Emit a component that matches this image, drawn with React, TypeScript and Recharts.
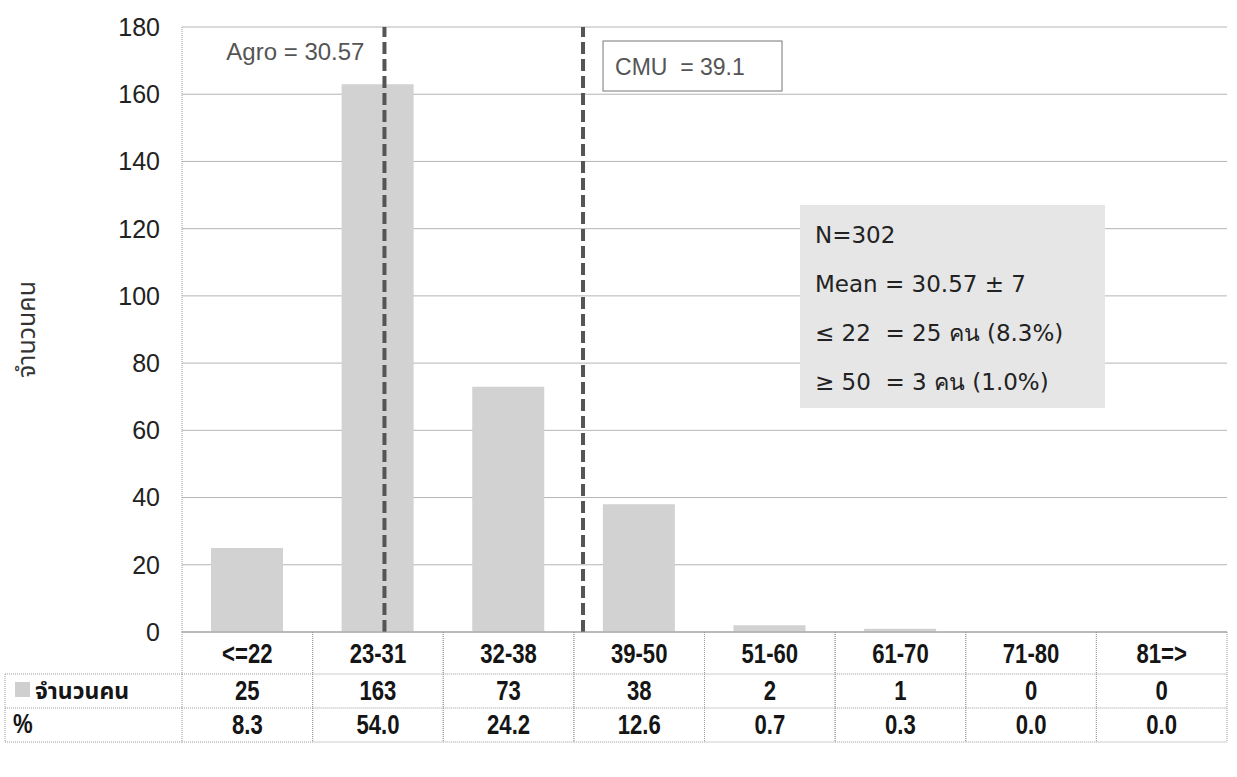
import React from 'react';
import { BarChart, Bar, XAxis, YAxis, CartesianGrid, ReferenceLine } from 'recharts';

const categories = ['<=22', '23-31', '32-38', '39-50', '51-60', '61-70', '71-80', '81=>'];
const counts = [25, 163, 73, 38, 2, 1, 0, 0];
const percents = ['8.3', '54.0', '24.2', '12.6', '0.7', '0.3', '0.0', '0.0'];
const yTicks = [0, 20, 40, 60, 80, 100, 120, 140, 160, 180];
const refLines = [
  { label: 'Agro = 30.57', pos: 1.55, side: 'left' },
  { label: 'CMU  = 39.1', pos: 3.07, side: 'right' },
];
const statsLines = ['N=302', 'Mean = 30.57 ± 7', '≤ 22  = 25 คน (8.3%)', '≥ 50  = 3 คน (1.0%)'];
const seriesName = 'จำนวนคน';
const pctName = '%';

const data = categories.map((c, i) => ({ cat: c, slot: i + 0.5, count: counts[i], pct: percents[i] }));

const W = 1237;
const H = 777;
const Y_W = 182;
const M_RIGHT = 10;
const X_H = 145;
const PLOT_W = W - Y_W - M_RIGHT;
const COL_W = PLOT_W / categories.length;
const ROW1 = 42;
const ROW2 = 34;
const ROW3 = 34;
const HEADER_LEFT = 5;

const sans = '"Liberation Sans", Arial, sans-serif';
const thai = '"Noto Sans Thai", Tahoma, "DejaVu Sans", sans-serif';
const gridStroke = '#9a9a9a';

const NarrowText = ({ x, y, children, anchor = 'middle', size = 27 }: any) => (
  <text
    transform={`translate(${x},${y}) scale(0.82,1)`}
    textAnchor={anchor}
    fontFamily={sans}
    fontWeight={700}
    fontSize={size}
    fill="#151515"
  >
    {children}
  </text>
);

const TableTick = (props: any) => {
  const { x, y, index, payload } = props;
  const left = x - COL_W / 2;
  const d = data[index] || { count: '', pct: '' };
  const cellLine = { stroke: gridStroke, strokeWidth: 1, strokeDasharray: '1 1' };
  const total = ROW1 + ROW2 + ROW3;
  return (
    <g>
      <line x1={left} y1={y} x2={left} y2={y + total} {...cellLine} />
      <line x1={left + COL_W} y1={y} x2={left + COL_W} y2={y + total} {...cellLine} />
      <line x1={left} y1={y + ROW1} x2={left + COL_W} y2={y + ROW1} {...cellLine} />
      <line x1={left} y1={y + ROW1 + ROW2} x2={left + COL_W} y2={y + ROW1 + ROW2} {...cellLine} />
      <line x1={left} y1={y + total} x2={left + COL_W} y2={y + total} {...cellLine} />
      <NarrowText x={x} y={y + 31}>{payload.value}</NarrowText>
      <NarrowText x={x} y={y + ROW1 + 26}>{d.count}</NarrowText>
      <NarrowText x={x} y={y + ROW1 + ROW2 + 26}>{d.pct}</NarrowText>
      {index === 0 && (
        <g>
          <line x1={HEADER_LEFT} y1={y + ROW1} x2={left} y2={y + ROW1} {...cellLine} />
          <line x1={HEADER_LEFT} y1={y + ROW1 + ROW2} x2={left} y2={y + ROW1 + ROW2} {...cellLine} />
          <line x1={HEADER_LEFT} y1={y + total} x2={left} y2={y + total} {...cellLine} />
          <line x1={HEADER_LEFT} y1={y + ROW1} x2={HEADER_LEFT} y2={y + total} {...cellLine} />
          <rect x={HEADER_LEFT + 10} y={y + ROW1 + 8} width={15} height={15} fill="#cfcfcf" />
          <text x={HEADER_LEFT + 30} y={y + ROW1 + 25} fontFamily={thai} fontWeight={700} fontSize={23} fill="#151515">
            {seriesName}
          </text>
          <NarrowText x={HEADER_LEFT + 8} y={y + ROW1 + ROW2 + 25} anchor="start">{pctName}</NarrowText>
        </g>
      )}
    </g>
  );
};

const RefLabel = (label: string, side: string) => (props: any) => {
  const vb = props.viewBox || {};
  const x = vb.x;
  const y = vb.y;
  if (side === 'left') {
    return (
      <text x={x - 20} y={y + 33} textAnchor="end" fontFamily={sans} fontSize={24} fill="#555">
        {label}
      </text>
    );
  }
  return (
    <g>
      <rect x={x + 20} y={y + 14} width={179} height={50} fill="#fff" stroke="#777" strokeWidth={1} />
      <text x={x + 32} y={y + 48} fontFamily={sans} fontSize={23} fill="#555" style={{ whiteSpace: 'pre' }}>
        {label}
      </text>
    </g>
  );
};

export default function App() {
  return (
    <div style={{ position: 'absolute', left: 0, top: 0, width: W, height: H, background: '#fff' }}>
      <BarChart width={W} height={H} data={data} margin={{ top: 27, right: M_RIGHT, left: 0, bottom: 0 }}>
        <CartesianGrid vertical={false} stroke="#b5b5b5" strokeWidth={1} />
        <XAxis
          dataKey="cat"
          height={X_H}
          tickLine={false}
          tickSize={0}
          tickMargin={0}
          axisLine={{ stroke: gridStroke }}
          tick={<TableTick />}
          interval={0}
        />
        <XAxis xAxisId="pos" dataKey="slot" type="number" domain={[0, categories.length]} allowDataOverflow hide />
        <YAxis
          width={Y_W}
          domain={[0, 180]}
          ticks={yTicks}
          tickLine={false}
          axisLine={{ stroke: gridStroke, strokeDasharray: '1 1' }}
          tickMargin={16}
          tick={{ fontFamily: sans, fontSize: 25, fill: '#222' }}
          label={{
            value: seriesName,
            angle: -90,
            position: 'insideLeft',
            offset: 26,
            style: { fontFamily: thai, fontSize: 25, fontWeight: 400, fill: '#333', textAnchor: 'middle' },
          }}
        />
        <Bar dataKey="count" fill="#d2d2d2" barSize={72} isAnimationActive={false} />
        {refLines.map((r) => (
          <ReferenceLine
            key={r.label}
            xAxisId="pos"
            x={r.pos}
            stroke="#555"
            strokeWidth={4}
            strokeDasharray="12 5"
            label={RefLabel(r.label, r.side)}
          />
        ))}
      </BarChart>
      <div
        style={{
          position: 'absolute',
          left: 800,
          top: 205,
          width: 305,
          height: 203,
          background: '#e6e6e6',
          boxSizing: 'border-box',
          padding: '6px 0 0 15px',
          fontFamily: '"DejaVu Sans", Verdana, Tahoma, sans-serif',
          fontSize: 23,
          color: '#222',
          lineHeight: '49px',
          whiteSpace: 'pre',
        }}
      >
        {statsLines.map((s) => (
          <div key={s}>{s}</div>
        ))}
      </div>
    </div>
  );
}
